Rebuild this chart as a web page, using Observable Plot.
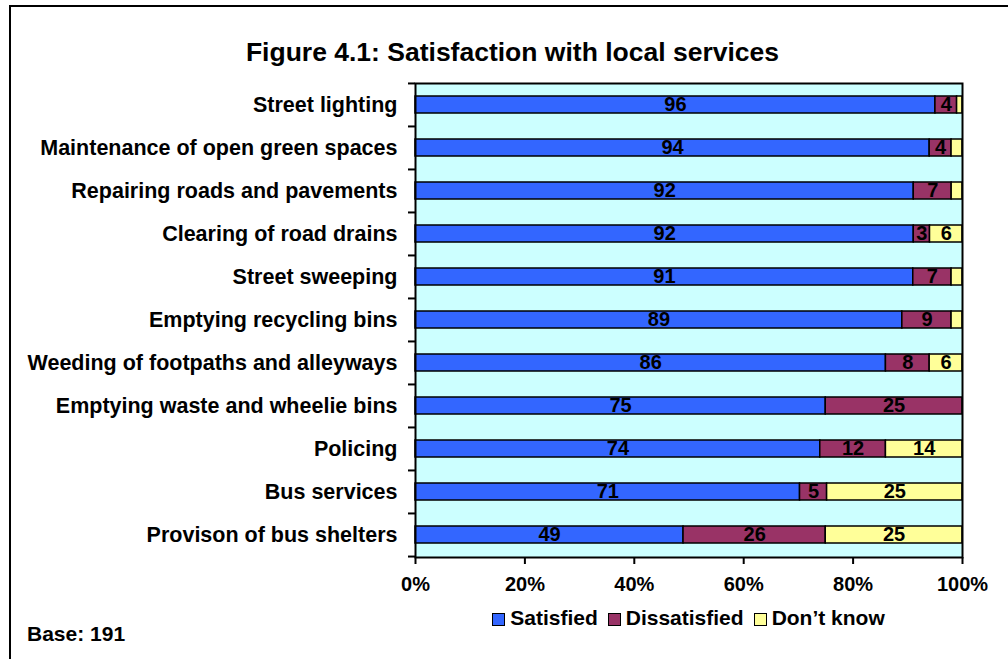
<!DOCTYPE html>
<html><head><meta charset="utf-8">
<script src="https://cdn.jsdelivr.net/npm/d3@7"></script>
<script src="https://cdn.jsdelivr.net/npm/@observablehq/plot@0.6"></script>
<style>
body{margin:0;background:#fff;font-family:"Liberation Sans",Arial,sans-serif;}
#wrap{position:relative;width:1008px;height:659px;overflow:hidden;background:#fff;}
#border{position:absolute;left:9px;top:5px;width:1100px;height:800px;border:2px solid #000;}
#title{position:absolute;left:0;width:1025px;top:37px;text-align:center;font-weight:bold;font-size:26.5px;line-height:30px;}
#chart{position:absolute;left:0;top:0;}
#legend{position:absolute;left:415px;width:547px;top:606px;display:flex;justify-content:center;gap:10px;font-weight:bold;font-size:21px;line-height:24px;}
#legend span.sw{display:inline-block;width:11px;height:11px;border:1.5px solid #000;margin-right:5px;vertical-align:-1px;}
#base{position:absolute;left:27px;top:622px;font-weight:bold;font-size:21px;line-height:24px;}
</style></head>
<body>
<div id="wrap">
<div id="border"></div>
<div id="title">Figure 4.1: Satisfaction with local services</div>
<div id="chart"></div>
<div id="legend"></div>
<div id="base">Base: 191</div>
</div>
<script>
const categories = [
  "Street lighting",
  "Maintenance of open green spaces",
  "Repairing roads and pavements",
  "Clearing of road drains",
  "Street sweeping",
  "Emptying recycling bins",
  "Weeding of footpaths and alleyways",
  "Emptying waste and wheelie bins",
  "Policing",
  "Bus services",
  "Provison of bus shelters"
];
const satisfied    = [96, 94, 92, 92, 91, 89, 86, 75, 74, 71, 49];
const dissatisfied = [4, 4, 7, 3, 7, 9, 8, 25, 12, 5, 26];
const dontKnow     = [1, 2, 2, 6, 2, 2, 6, 0, 14, 25, 25];
const series = ["Satisfied", "Dissatisfied", "Don\u2019t know"];
const colors = ["#3366FF", "#993366", "#FFFF99"];
const xTicks = [0, 0.2, 0.4, 0.6, 0.8, 1];

const seriesValues = [satisfied, dissatisfied, dontKnow];
const rows = [];
categories.forEach((c, i) => {
  series.forEach((s, j) => rows.push({category: c, series: s, value: seriesValues[j][i]}));
});

const W = 1008, H = 659, mT = 83, mB = 102, mL = 415, mR = 46;
const step = (H - mT - mB) / categories.length;
const font = '"Liberation Sans", Arial, sans-serif';

const chart = Plot.plot({
  width: W, height: H,
  marginLeft: mL, marginRight: mR, marginTop: mT, marginBottom: mB,
  style: {fontFamily: font, fontSize: "20px", fontWeight: "bold", color: "#000", background: "transparent", overflow: "visible"},
  x: {domain: [0, 1], ticks: xTicks, tickFormat: d3.format(".0%")},
  y: {domain: categories, paddingInner: 0.6, paddingOuter: 0.3},
  color: {domain: series, range: colors},
  marks: [
    Plot.frame({fill: "#CCFFFF"}),
    Plot.barX(rows, Plot.stackX({x: "value", y: "category", fill: "series", order: series, offset: "normalize", stroke: "#000", strokeWidth: 1.5})),
    Plot.text(rows, Plot.stackX({x: "value", y: "category", z: "series", order: series, offset: "normalize",
      text: d => d.value >= 3 ? String(d.value) : "", fontSize: 20, fontWeight: "bold", fill: "#000"})),
    Plot.axisX({ticks: xTicks, tickFormat: d3.format(".0%"), tickSize: 7, tickPadding: 12, strokeWidth: 2, label: null}),
    Plot.axisY({tickSize: 0, tickPadding: 18, fontSize: 21.5, label: null}),
    Plot.axisY({tickSize: 7, tickFormat: () => "", dy: -step / 2, strokeWidth: 2, label: null}),
    Plot.axisY({ticks: [categories[categories.length - 1]], tickSize: 7, tickFormat: () => "", dy: step / 2, strokeWidth: 2, label: null}),
    Plot.frame({stroke: "#000", strokeWidth: 2})
  ]
});
document.getElementById("chart").appendChild(chart);

const legend = document.getElementById("legend");
series.forEach((s, j) => {
  const item = document.createElement("div");
  const sw = document.createElement("span");
  sw.className = "sw";
  sw.style.background = colors[j];
  item.appendChild(sw);
  item.appendChild(document.createTextNode(s));
  legend.appendChild(item);
});
</script>
</body></html>
